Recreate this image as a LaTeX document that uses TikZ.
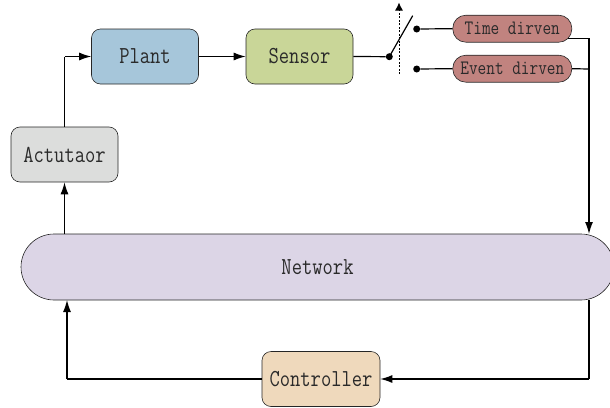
\documentclass[tikz,border=0pt]{standalone}
\usetikzlibrary{arrows.meta,backgrounds}
\definecolor{plantc}{HTML}{A6C6DA}
\definecolor{sensorc}{HTML}{C9D698}
\definecolor{actc}{HTML}{DCDDDC}
\definecolor{netc}{HTML}{DCD5E6}
\definecolor{ctrlc}{HTML}{EFD9BC}
\definecolor{modec}{HTML}{C1837F}
\definecolor{txtc}{HTML}{2A2A2A}
\newcommand\tallt[1]{\scalebox{1.0}[1.22]{#1}}
\begin{document}
\begin{tikzpicture}[x=1pt,y=-1pt,
  box/.style={draw=black!85,line width=0.6pt,rounded corners=9pt,minimum width=107pt,minimum height=55pt,inner sep=0pt,text=txtc,font=\ttfamily\fontsize{20}{22}\selectfont},
  mode/.style={draw=black!85,line width=0.6pt,rounded corners=13pt,fill=modec,minimum width=119pt,minimum height=27pt,inner sep=0pt,text=txtc,font=\ttfamily\fontsize{16.8}{19}\selectfont},
  conn/.style={draw=black,line width=1.2pt},
  arr/.style={conn,-{Latex[length=12pt,width=8pt]}},
  dot/.style={circle,fill=black,inner sep=0pt,minimum size=7pt}]
\useasboundingbox (0,0) rectangle (610,407);
\node[box,fill=plantc] (plant) at (145,56.5) {\tallt{Plant}};
\node[box,fill=sensorc] (sensor) at (299.5,56.5) {\tallt{Sensor}};
\node[box,fill=actc] (act) at (64.5,154.5) {\tallt{Actutaor}};
\node[box,fill=netc,rounded corners=33pt,minimum width=593pt,minimum height=66pt] (net) at (317.5,267) {\tallt{Network}};
\node[box,fill=ctrlc,minimum width=118pt] (ctrl) at (321,379) {\tallt{Controller}};
\node[mode] (td) at (512.3,28.7) {\tallt{Time dirven}};
\node[mode] (ed) at (512.3,68.7) {\tallt{Event dirven}};
\node[dot] (piv) at (389.3,56.7) {};
\node[dot] (c1) at (416.7,29) {};
\node[dot] (c2) at (416.7,69) {};
\coordinate (bladeend) at (412.7,15.7);
\coordinate (dashlow) at (399,74);
\coordinate (dashtop) at (399,2.5);
\coordinate (j1) at (589,38.3);
\coordinate (j2) at (589,69);
\coordinate (j3) at (589,234);
\coordinate (k1) at (589,300);
\coordinate (k2) at (589,379);
\coordinate (l1) at (67,379);
\coordinate (l2) at (67,300);
\coordinate (m1) at (64.5,234);
\coordinate (a1) at (64.5,56.5);
% connectors
\draw[arr] (m1) -- (act.south);
\draw[conn] (act.north) -- (a1);
\draw[arr] (a1) -- (plant.west);
\draw[arr] (plant.east) -- (sensor.west);
\draw[conn] (sensor.east) -- (piv);
\draw[conn] (piv.center) -- (bladeend);
\draw[conn,line width=1pt,dash pattern=on 2pt off 1.5pt,-{Latex[length=8pt,width=8pt]}] (dashlow) -- (dashtop);
\draw[conn] (c1) -- (td.west);
\draw[conn] (c2) -- (ed.west);
\draw[conn] ([xshift=-4pt,yshift=-9.6pt]td.east) -- (j1);
\draw[conn] (ed.east) -- (j2);
\draw[arr] (j1) -- (j3);
\draw[conn] (k1) -- (k2);
\draw[arr] (k2) -- (ctrl.east);
\draw[conn] (ctrl.west) -- (l1);
\draw[arr] (l1) -- (l2);
\end{tikzpicture}
\end{document}
